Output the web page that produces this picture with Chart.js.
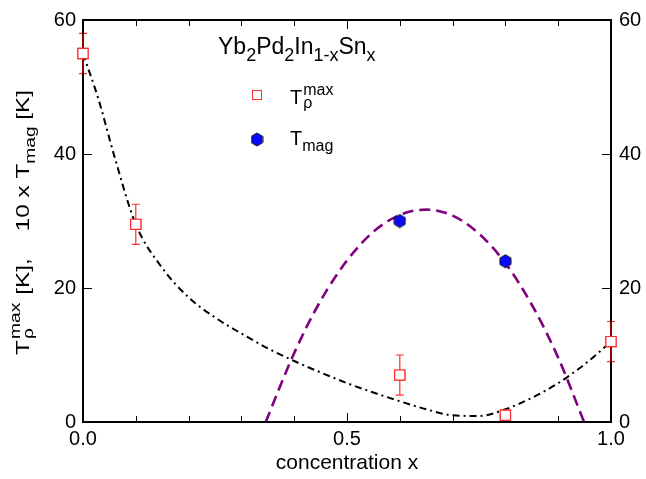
<!DOCTYPE html>
<html>
<head>
<meta charset="utf-8">
<script src="https://cdn.jsdelivr.net/npm/chart.js@4/dist/chart.umd.min.js"></script>
<style>
    html, body { margin: 0; padding: 0; background: #fff; }
    #wrap { width: 646px; height: 479px; }
</style>
</head>
<body>
<div id="wrap"><canvas id="chart" width="646" height="479"></canvas></div>
<script>
(() => {
    "use strict";

    // ====== Data ======
    const rhoX = [0.0, 0.1, 0.6, 0.8, 1.0];          // T_rho^max, concentration x
    const rhoY = [55, 29.5, 7, 1, 12];                // K
    const rhoErr = [3, 3, 3, 0.3, 3];                 // K

    const magX = [0.6, 0.8];                          // 10 x T_mag
    const magY = [30, 24];

    // dash-dot guide through T_rho^max
    const guideX = [0, 0.03, 0.06, 0.1, 0.15, 0.2, 0.25, 0.3, 0.35, 0.4, 0.45, 0.5,
                    0.55, 0.6, 0.65, 0.7, 0.75, 0.8, 0.85, 0.9, 0.95, 1.0];
    const guideY = [55, 48, 39.5, 29.5, 23, 18.6, 15.6, 13.2, 11.0, 9.1, 7.4, 5.8,
                    4.4, 3.1, 1.9, 1.0, 0.9, 1.9, 3.6, 5.8, 8.6, 12];

    // dashed dome through T_mag
    const domeX = [0.346, 0.4, 0.45, 0.5, 0.55, 0.6, 0.65, 0.7, 0.75, 0.8, 0.85, 0.9, 0.949];
    const domeY = [0, 10.3, 18.1, 24.1, 28.4, 30.9, 31.7, 30.8, 28.1, 23.7, 17.5, 9.6, 0];

    const xTicks = [0.0, 0.5, 1.0];
    const yTicks = [0, 20, 40, 60];

    const FONT = "'Liberation Sans', Arial, Helvetica, sans-serif";
    const RED = "#ff2e2e";

    const pts = (xs, ys) => xs.map((x, i) => ({ x, y: ys[i] }));

    // ====== Hexagon marker ======
    function hexagon(w, h) {
        const c = document.createElement("canvas");
        c.width = w + 2;
        c.height = h + 2;
        const g = c.getContext("2d");
        const cx = c.width / 2, cy = c.height / 2;
        g.beginPath();
        g.moveTo(cx, cy - h / 2);
        g.lineTo(cx + w / 2, cy - h / 4);
        g.lineTo(cx + w / 2, cy + h / 4);
        g.lineTo(cx, cy + h / 2);
        g.lineTo(cx - w / 2, cy + h / 4);
        g.lineTo(cx - w / 2, cy - h / 4);
        g.closePath();
        g.fillStyle = "#0a0aff";
        g.fill();
        g.lineWidth = 1;
        g.strokeStyle = "#111";
        g.stroke();
        return c;
    }
    const hexImg = hexagon(11, 13);

    // text with sub/superscripts; parts = [[text, kind, text2]], kind: n | sub | sup | subsup
    // returns the advance width; draw=false only measures
    function richText(ctx, x, y, parts, size, ratio = 0.78, draw = true) {
        const small = Math.round(size * ratio);
        let cx = x;
        const put = (t, px, py) => { if (draw) ctx.fillText(t, px, py); };
        parts.forEach(([t, kind, t2]) => {
            if (kind === "n") {
                ctx.font = `${size}px ${FONT}`;
                put(t, cx, y);
                cx += ctx.measureText(t).width;
            } else if (kind === "sub") {
                ctx.font = `${small}px ${FONT}`;
                put(t, cx, y + size * 0.3);
                cx += ctx.measureText(t).width;
            } else if (kind === "sup") {
                ctx.font = `${small}px ${FONT}`;
                put(t, cx, y - size * 0.45);
                cx += ctx.measureText(t).width;
            } else if (kind === "subsup") {
                ctx.font = `${small}px ${FONT}`;
                put(t, cx + 1, y - size * 0.45);
                const w1 = ctx.measureText(t).width;
                put(t2, cx + 1, y + size * 0.22);
                cx += Math.max(w1, ctx.measureText(t2).width) + 2;
            }
        });
        return cx - x;
    }

    // ====== Plugins ======
    function errorPaths(chart, fn) {
        const ys = chart.scales.y;
        chart.getDatasetMeta(0).data.forEach((el, i) => {
            fn(el.x, ys.getPixelForValue(rhoY[i] + rhoErr[i]), ys.getPixelForValue(rhoY[i] - rhoErr[i]));
        });
    }

    const errorBars = {
        id: "errorBars",
        beforeDatasetsDraw(chart) {
            const { ctx } = chart;
            ctx.save();
            ctx.strokeStyle = RED;
            ctx.lineWidth = 1.2;
            errorPaths(chart, (x, top, bot) => {
                ctx.beginPath();
                ctx.moveTo(x, top);
                ctx.lineTo(x, bot);
                ctx.moveTo(x - 4, top);
                ctx.lineTo(x + 4, top);
                ctx.moveTo(x - 4, bot);
                ctx.lineTo(x + 4, bot);
                ctx.stroke();
            });
            ctx.restore();
        }
    };

    const frame = {
        id: "frame",
        afterDraw(chart) {
            const { ctx, chartArea: a } = chart;
            const xs = chart.scales.x, ys = chart.scales.y;
            ctx.save();
            ctx.strokeStyle = "#000";
            ctx.lineWidth = 1;
            // x ticks every 0.1, inward on bottom and top
            for (let k = 1; k < 10; k++) {
                const px = Math.round(xs.getPixelForValue(k / 10)) + 0.5;
                const len = k === 5 ? 9 : 6;
                ctx.beginPath();
                ctx.moveTo(px, a.bottom);
                ctx.lineTo(px, a.bottom - len);
                ctx.moveTo(px, a.top);
                ctx.lineTo(px, a.top + len);
                ctx.stroke();
            }
            yTicks.slice(1, -1).forEach((v) => {
                const py = Math.round(ys.getPixelForValue(v)) + 0.5;
                ctx.beginPath();
                ctx.moveTo(a.left, py);
                ctx.lineTo(a.left + 9, py);
                ctx.moveTo(a.right, py);
                ctx.lineTo(a.right - 9, py);
                ctx.stroke();
            });
            ctx.lineWidth = 2;
            ctx.strokeRect(a.left, a.top, a.right - a.left, a.bottom - a.top);

            // error bars lying on the frame show through it (dark red)
            ctx.strokeStyle = "rgba(255,0,0,0.55)";
            ctx.lineWidth = 2;
            errorPaths(chart, (x, top, bot) => {
                if (Math.abs(x - a.left) < 2 || Math.abs(x - a.right) < 2) {
                    ctx.beginPath();
                    ctx.moveTo(x, top);
                    ctx.lineTo(x, bot);
                    ctx.stroke();
                }
            });
            chart.getDatasetMeta(0).data.forEach((el) => el.draw(ctx, a));

            // legend
            ctx.fillStyle = "#000";
            ctx.textBaseline = "alphabetic";
            ctx.textAlign = "left";
            richText(ctx, 218, 54, [["Yb", "n"], ["2", "sub"], ["Pd", "n"], ["2", "sub"],
                ["In", "n"], ["1-x", "sub"], ["Sn", "n"], ["x", "sub"]], 23, 0.8);
            ctx.lineWidth = 1;
            ctx.strokeStyle = RED;
            ctx.fillStyle = "#fff";
            ctx.fillRect(252, 90, 10, 10);
            ctx.strokeRect(252.5, 90.5, 9, 9);
            ctx.drawImage(hexImg, 257 - hexImg.width / 2, 139.5 - hexImg.height / 2);
            ctx.fillStyle = "#000";
            richText(ctx, 290, 104, [["T", "n"], ["max", "subsup", "ρ"]], 20, 0.8);
            richText(ctx, 290, 145, [["T", "n"], ["mag", "sub"]], 20, 0.8);

            // rotated y-axis title, stretched along the text to span the reference length
            const titleParts = [["T", "n"], ["max", "subsup", "ρ"], [" [K],    10 x T", "n"],
                ["mag", "sub"], [" [K]", "n"]];
            const natural = richText(ctx, 0, 0, titleParts, 19, 0.8, false);
            ctx.save();
            ctx.translate(29, 355);
            ctx.rotate(-Math.PI / 2);
            ctx.scale(265 / natural, 1);
            richText(ctx, 0, 0, titleParts, 19, 0.8);
            ctx.restore();
            ctx.restore();
        }
    };

    // ====== Chart ======
    const tickFont = { family: FONT, size: 20 };

    new Chart(document.getElementById("chart").getContext("2d"), {
        type: "scatter",
        data: {
            datasets: [
                {
                    label: "Trho",
                    data: pts(rhoX, rhoY),
                    pointStyle: "rect",
                    pointRadius: 7.2,
                    borderColor: RED,
                    backgroundColor: "#fff",
                    borderWidth: 1.2,
                    clip: false,
                    order: 1
                },
                {
                    label: "Tmag",
                    data: pts(magX, magY),
                    pointStyle: hexImg,
                    clip: false,
                    order: 2
                },
                {
                    label: "guide",
                    data: pts(guideX, guideY),
                    showLine: true,
                    pointRadius: 0,
                    borderColor: "#000",
                    borderWidth: 2,
                    borderDash: [7, 4, 2, 4],
                    cubicInterpolationMode: "monotone",
                    order: 3
                },
                {
                    label: "dome",
                    data: pts(domeX, domeY),
                    showLine: true,
                    pointRadius: 0,
                    borderColor: "#800080",
                    borderWidth: 2.6,
                    borderDash: [11, 6],
                    cubicInterpolationMode: "monotone",
                    order: 4
                }
            ]
        },
        options: {
            responsive: false,
            animation: false,
            events: [],
            layout: { padding: { top: 14, left: 0, right: 0, bottom: 0 } },
            plugins: { legend: { display: false }, tooltip: { enabled: false } },
            scales: {
                x: {
                    type: "linear",
                    min: 0,
                    max: 1,
                    afterBuildTicks: (s) => { s.ticks = xTicks.map((v) => ({ value: v })); },
                    ticks: {
                        font: tickFont,
                        color: "#000",
                        padding: 5,
                        maxRotation: 0,
                        callback: (v) => Number(v).toFixed(1)
                    },
                    grid: { display: false, drawTicks: false },
                    border: { display: false },
                    title: {
                        display: true,
                        text: "concentration x",
                        font: { family: FONT, size: 21 },
                        color: "#000",
                        padding: { top: 0, bottom: 3 }
                    },
                    afterFit: (s) => { s.height = 57; }
                },
                y: {
                    position: "left",
                    min: 0,
                    max: 60,
                    afterBuildTicks: (s) => { s.ticks = yTicks.map((v) => ({ value: v })); },
                    ticks: { font: tickFont, color: "#000", padding: 7 },
                    grid: { display: false, drawTicks: false },
                    border: { display: false },
                    afterFit: (s) => { s.width = 83; }
                },
                y2: {
                    position: "right",
                    min: 0,
                    max: 60,
                    afterBuildTicks: (s) => { s.ticks = yTicks.map((v) => ({ value: v })); },
                    ticks: { font: tickFont, color: "#000", padding: 8 },
                    grid: { display: false, drawTicks: false },
                    border: { display: false },
                    afterFit: (s) => { s.width = 35; }
                }
            }
        },
        plugins: [errorBars, frame]
    });
})();
</script>
</body>
</html>
